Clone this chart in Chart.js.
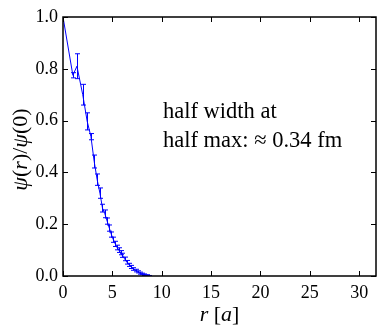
<!DOCTYPE html>
<html>
<head>
<meta charset="utf-8">
<script src="https://cdn.jsdelivr.net/npm/chart.js@4"></script>
<style>
  body { margin: 0; background: #fff; }
  #wrap { width: 378px; height: 328px; }
</style>
</head>
<body>
<div id="wrap"><canvas id="graf"></canvas></div>
<script>
// data
const r = [0, 1.0, 1.41, 2.0, 2.45, 2.83, 3.16, 3.46, 3.74, 4.0, 4.24, 4.47, 4.69, 4.9, 5.1,
  5.29, 5.48, 5.66, 5.83, 6.0, 6.24, 6.48, 6.71, 6.93, 7.14, 7.35, 7.55, 7.75, 8.0, 8.25, 8.5, 8.75, 9.0];
const psi = [1.0, 0.775, 0.81, 0.70, 0.597, 0.538, 0.442, 0.372, 0.32, 0.262, 0.24, 0.212, 0.185, 0.16, 0.14,
  0.124, 0.11, 0.1, 0.09, 0.08, 0.066, 0.053, 0.043, 0.035, 0.027, 0.021, 0.016, 0.011, 0.008, 0.005, 0.003, 0.001, 0.0];
const greska = [0, 0.01, 0.048, 0.04, 0.033, 0.012, 0.025, 0.022, 0.02, 0.015, 0.015, 0.012, 0.012, 0.01, 0.01,
  0.01, 0.009, 0.009, 0.008, 0.008, 0.007, 0.007, 0.006, 0.006, 0.005, 0.005, 0.004, 0.004, 0.003, 0.003, 0.002, 0.001, 0];
const xTicks = [0, 5, 10, 15, 20, 25, 30];
const yTicks = [0, 0.2, 0.4, 0.6, 0.8, 1.0];
const napomena = ['half width at', 'half max: \u2248 0.34 fm'];

const serif = "'Liberation Serif', 'DejaVu Serif', serif";
const plava = '#0000ff';

// error bars drawn through the chart scales
const errorBars = {
  id: 'errorBars',
  afterDatasetsDraw(chart) {
    const { ctx, scales: { x, y }, chartArea: a } = chart;
    ctx.save();
    ctx.beginPath();
    ctx.rect(a.left, a.top, a.right - a.left, a.bottom - a.top);
    ctx.clip();
    ctx.strokeStyle = plava;
    ctx.lineWidth = 1;
    for (let i = 0; i < r.length; i++) {
      if (!greska[i]) continue;
      const px = Math.round(x.getPixelForValue(r[i])) + 0.5;
      const gore = y.getPixelForValue(psi[i] + greska[i]);
      const dolje = y.getPixelForValue(psi[i] - greska[i]);
      ctx.beginPath();
      ctx.moveTo(px, gore); ctx.lineTo(px, dolje);
      ctx.moveTo(px - 2.5, gore); ctx.lineTo(px + 2.5, gore);
      ctx.moveTo(px - 2.5, dolje); ctx.lineTo(px + 2.5, dolje);
      ctx.stroke();
    }
    ctx.restore();
  }
};

// write text pieces with mixed italic / upright fonts
function mixedText(ctx, dijelovi, size) {
  let w = 0;
  for (const [t, it] of dijelovi) {
    ctx.font = (it ? 'italic ' : '') + size + 'px ' + serif;
    w += ctx.measureText(t).width;
  }
  let x = -w / 2;
  for (const [t, it] of dijelovi) {
    ctx.font = (it ? 'italic ' : '') + size + 'px ' + serif;
    ctx.fillText(t, x, 0);
    x += ctx.measureText(t).width;
  }
}

// frame, inward ticks, axis titles, note
const okvir = {
  id: 'okvir',
  afterDraw(chart) {
    const { ctx, scales: { x, y }, chartArea: a } = chart;
    ctx.save();
    ctx.strokeStyle = '#000';
    ctx.lineWidth = 1;
    ctx.beginPath();
    for (const v of xTicks) {
      const px = Math.round(x.getPixelForValue(v)) + 0.5;
      ctx.moveTo(px, a.bottom); ctx.lineTo(px, a.bottom - 5);
      ctx.moveTo(px, a.top); ctx.lineTo(px, a.top + 5);
    }
    for (const v of yTicks) {
      const py = Math.round(y.getPixelForValue(v)) + 0.5;
      ctx.moveTo(a.left, py); ctx.lineTo(a.left + 5, py);
      ctx.moveTo(a.right, py); ctx.lineTo(a.right - 5, py);
    }
    ctx.stroke();
    ctx.lineWidth = 1.5;
    ctx.strokeRect(a.left, a.top, a.right - a.left, a.bottom - a.top);

    ctx.fillStyle = '#000';
    ctx.textBaseline = 'alphabetic';
    ctx.textAlign = 'left';
    // x title
    ctx.save();
    ctx.translate((a.left + a.right) / 2, 321);
    mixedText(ctx, [['r', true], [' [', false], ['a', true], [']', false]], 22);
    ctx.restore();
    // y title
    ctx.save();
    ctx.translate(27, (a.top + a.bottom) / 2 + 3);
    ctx.rotate(-Math.PI / 2);
    mixedText(ctx, [['\u03c8', true], ['(', false], ['r', true], [')/', false], ['\u03c8', true], ['(0)', false]], 22);
    ctx.restore();
    // note
    ctx.font = '22.5px ' + serif;
    ctx.fillText(napomena[0], 163, 118);
    ctx.fillText(napomena[1], 163, 147);
    ctx.restore();
  }
};

const ctx = document.getElementById('graf').getContext('2d');
new Chart(ctx, {
  type: 'scatter',
  data: {
    datasets: [{
      data: r.map((v, i) => ({ x: v, y: psi[i] })),
      showLine: true,
      borderColor: plava,
      borderWidth: 1,
      pointRadius: 0,
      tension: 0
    }]
  },
  options: {
    responsive: true,
    maintainAspectRatio: false,
    animation: false,
    layout: { padding: { top: 17, right: 2, left: 0, bottom: 0 } },
    plugins: { legend: { display: false }, tooltip: { enabled: false } },
    scales: {
      x: {
        type: 'linear',
        min: 0,
        max: 31.7,
        grid: { display: false, drawTicks: false },
        border: { display: false },
        afterBuildTicks: s => { s.ticks = xTicks.map(v => ({ value: v })); },
        afterFit: s => { s.height = 52; },
        ticks: { padding: 6, color: '#000', font: { family: serif, size: 18 }, maxRotation: 0 }
      },
      y: {
        min: 0,
        max: 1,
        grid: { display: false, drawTicks: false },
        border: { display: false },
        afterBuildTicks: s => { s.ticks = yTicks.map(v => ({ value: v })); },
        afterFit: s => { s.width = 63; },
        ticks: { padding: 5, color: '#000', font: { family: serif, size: 18 }, callback: v => v.toFixed(1) }
      }
    }
  },
  plugins: [errorBars, okvir]
});
</script>
</body>
</html>
